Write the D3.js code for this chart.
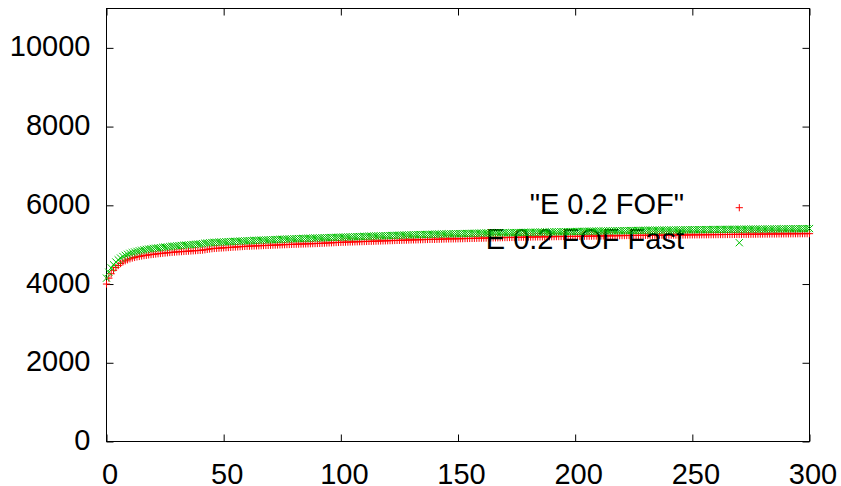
<!DOCTYPE html>
<html>
<head>
<meta charset="utf-8">
<script src="https://cdn.jsdelivr.net/npm/d3@7"></script>
<style>
html,body{margin:0;padding:0;background:#fff;}
svg{display:block;font-family:"Liberation Sans",Arial,sans-serif;}
</style>
</head>
<body>
<svg id="chart" width="841" height="486"></svg>
<script>
const seriesNames = ['"E 0.2 FOF"', 'E 0.2 FOF Fast'];
const xTicks = [0, 50, 100, 150, 200, 250, 300];
const yTicks = [0, 2000, 4000, 6000, 8000, 10000];

const fofValues = [
4000,4150,4260,4350,4420,4470,4520,4560,4590,4615,
4640,4660,4675,4690,4700,4712,4722,4730,4740,4748,
4755,4762,4770,4776,4782,4788,4794,4800,4806,4811,
4816,4820,4824,4828,4832,4836,4840,4844,4848,4852,
4856,4862,4870,4880,4890,4898,4904,4908,4912,4916,
4920,4924,4928,4932,4936,4940,4944,4948,4952,4956,
4960,4962,4965,4968,4970,4972,4975,4978,4980,4982,
4985,4988,4990,4992,4995,4998,5000,5002,5005,5008,
5010,5012,5014,5016,5018,5020,5022,5024,5026,5028,
5030,5033,5036,5039,5042,5045,5048,5051,5054,5057,
5060,5062,5064,5066,5068,5070,5072,5074,5076,5078,
5080,5082,5084,5086,5088,5090,5092,5094,5096,5098,
5100,5102,5104,5106,5108,5110,5112,5114,5116,5118,
5120,5122,5123,5125,5127,5128,5130,5132,5134,5135,
5135,5137,5139,5141,5143,5145,5146,5147,5148,5149,
5150,5152,5153,5155,5156,5158,5159,5161,5162,5164,
5165,5167,5168,5170,5171,5173,5174,5176,5177,5179,
5180,5181,5182,5184,5185,5186,5188,5189,5190,5192,
5193,5194,5195,5196,5197,5198,5199,5200,5201,5202,
5203,5204,5205,5206,5207,5208,5208,5209,5209,5210,
5210,5211,5212,5213,5214,5215,5216,5217,5218,5219,
5220,5221,5222,5223,5224,5225,5226,5227,5228,5229,
5230,5231,5232,5233,5234,5235,5236,5236,5237,5237,
5238,5238,5239,5239,5240,5240,5241,5241,5242,5242,
5243,5243,5244,5244,5245,5245,5246,5247,5248,5249,
5250,5250,5251,5251,5252,5252,5253,5254,5254,5255,
5256,5256,5257,5257,5258,5259,5259,5260,5261,5262,
5262,5263,5264,5264,5265,5266,5266,5267,5268,5268,
5269,5270,5270,5271,5272,5272,5273,5274,5274,5275,
5276,5276,5277,5277,5278,5278,5279,5279,5280,5280,
5280
];

const fofFastValues = [
4150,4300,4410,4490,4560,4615,4660,4700,4730,4755,
4780,4798,4815,4830,4845,4858,4870,4880,4890,4898,
4905,4912,4919,4926,4933,4940,4946,4952,4958,4964,
4970,4975,4980,4985,4990,4995,5000,5005,5010,5015,
5020,5027,5035,5043,5050,5055,5058,5061,5064,5067,
5070,5073,5076,5079,5082,5085,5088,5091,5094,5097,
5100,5102,5105,5108,5110,5112,5115,5118,5120,5122,
5125,5128,5130,5132,5135,5138,5140,5142,5145,5148,
5150,5152,5154,5156,5158,5160,5162,5164,5166,5168,
5170,5172,5174,5176,5178,5180,5182,5184,5186,5188,
5190,5192,5194,5196,5198,5200,5202,5204,5206,5208,
5210,5212,5214,5216,5218,5220,5222,5224,5226,5228,
5230,5232,5234,5236,5238,5240,5242,5244,5246,5248,
5250,5252,5254,5255,5257,5258,5260,5261,5263,5264,
5266,5267,5269,5270,5272,5273,5275,5276,5278,5279,
5280,5281,5282,5284,5285,5286,5288,5289,5290,5292,
5293,5294,5295,5296,5297,5298,5299,5300,5301,5302,
5303,5304,5305,5306,5307,5308,5309,5310,5311,5312,
5313,5314,5315,5316,5317,5318,5319,5320,5321,5322,
5324,5325,5326,5327,5328,5329,5330,5331,5332,5334,
5335,5336,5337,5338,5339,5340,5341,5342,5343,5344,
5345,5346,5347,5348,5349,5350,5351,5352,5353,5354,
5355,5356,5357,5358,5359,5360,5361,5362,5363,5364,
5365,5366,5366,5367,5368,5368,5369,5370,5370,5371,
5372,5373,5374,5375,5376,5377,5377,5378,5379,5380,
5380,5381,5381,5382,5383,5383,5384,5385,5385,5386,
5386,5387,5387,5388,5389,5389,5390,5390,5391,5391,
5392,5392,5393,5393,5394,5395,5395,5396,5396,5397,
5398,5398,5399,5399,5400,5400,5401,5402,5402,5403,
5403,5404,5404,5405,5405,5406,5407,5407,5408,5409,
5410
];

const seriesColors = ["#ff0000", "#00c000"];

const svg = d3.select("#chart");
const L = 106.5, R = 809.5, T = 8.5, B = 441.5;
const x = d3.scaleLinear().domain([0, 300]).range([L, R]);
const y = d3.scaleLinear().domain([0, 11000]).range([B, T]);
const FS = 29;

// axes (ticks inside, mirrored)
const gB = svg.append("g").attr("transform", `translate(0,${B})`)
  .call(d3.axisBottom(x).tickValues(xTicks).tickSize(-7).tickFormat(d3.format("d")));
const gT = svg.append("g").attr("transform", `translate(0,${T})`)
  .call(d3.axisTop(x).tickValues(xTicks).tickSize(-7).tickFormat(""));
const gL = svg.append("g").attr("transform", `translate(${L},0)`)
  .call(d3.axisLeft(y).tickValues(yTicks).tickSize(-7).tickFormat(d3.format("d")));
const gR = svg.append("g").attr("transform", `translate(${R},0)`)
  .call(d3.axisRight(y).tickValues(yTicks).tickSize(-7).tickFormat(""));

[gB, gT, gL, gR].forEach(g => {
  g.select(".domain").remove();
  g.selectAll(".tick line").attr("stroke", "#000").attr("stroke-width", 1);
});
gB.selectAll(".tick text")
  .attr("y", 42).attr("dy", null).attr("dx", 3)
  .attr("font-size", FS).attr("font-family", "Liberation Sans, Arial, sans-serif")
  .attr("fill", "#000");
gL.selectAll(".tick text")
  .attr("x", -16).attr("dy", null).attr("y", 8)
  .attr("font-size", FS).attr("font-family", "Liberation Sans, Arial, sans-serif")
  .attr("fill", "#000");

// border
svg.append("rect").attr("x", L).attr("y", T).attr("width", R - L).attr("height", B - T)
  .attr("fill", "none").attr("stroke", "#000").attr("stroke-width", 1);

const plusPath = "M-3.6,0H3.6M0,-3.6V3.6";
const crossPath = "M-3.6,-3.6L3.6,3.6M-3.6,3.6L3.6,-3.6";
const series = [
  { name: seriesNames[0], values: fofValues, color: seriesColors[0], path: plusPath, ty: 214, my: 207.7 },
  { name: seriesNames[1], values: fofFastValues, color: seriesColors[1], path: crossPath, ty: 248.5, my: 242.7 }
];

series.forEach(s => {
  svg.append("text").attr("x", 684).attr("y", s.ty)
    .attr("text-anchor", "end").attr("font-size", FS).attr("fill", "#000")
    .text(s.name);
  svg.append("path").attr("d", s.path)
    .attr("transform", `translate(739.3,${s.my})`)
    .attr("stroke", s.color).attr("stroke-width", 1).attr("fill", "none");
  svg.append("g").selectAll("path").data(s.values).join("path")
    .attr("d", s.path)
    .attr("transform", (d, i) => `translate(${x(i)},${y(d)})`)
    .attr("stroke", s.color).attr("stroke-width", 1).attr("fill", "none");
});
</script>
</body>
</html>
